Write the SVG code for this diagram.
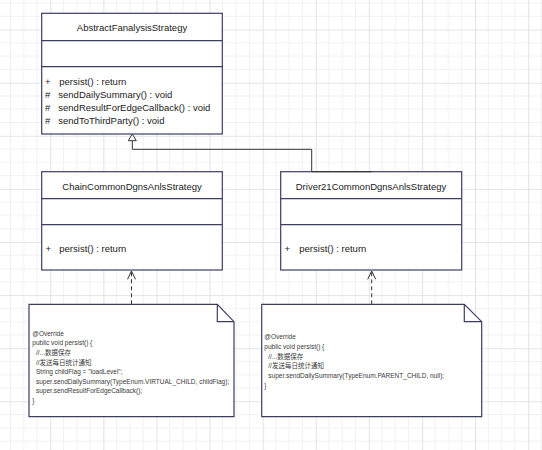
<svg xmlns="http://www.w3.org/2000/svg" width="542" height="450" viewBox="0 0 542 450">
<defs>
<pattern id="grid" x="50.2" y="29.6" width="53.1" height="53.1" patternUnits="userSpaceOnUse">
<path d="M13.275,0V53.1M26.55,0V53.1M39.825,0V53.1M0,13.275H53.1M0,26.55H53.1M0,39.825H53.1" stroke="#f1f1f1" stroke-width="1" fill="none"/>
<path d="M0.5,0V53.1M0,0.5H53.1" stroke="#e4e4e4" stroke-width="1.2" fill="none"/>
</pattern>
</defs>
<style>
.box{fill:#fff;stroke:#3d3d63;stroke-width:1.2}
.div{stroke:#3d3d63;stroke-width:1.2}
.title{font-family:"Liberation Sans",Arial,sans-serif;font-size:9.5px;fill:#222;text-anchor:middle}
.mem{font-family:"Liberation Sans",Arial,sans-serif;font-size:9.5px;fill:#222}
.note{fill:#fff;stroke:#3d3d63;stroke-width:1.2}
.code{font-family:"Liberation Sans",Arial,"Noto Sans CJK SC",sans-serif;font-size:6.5px;fill:#3a3a3a}
.conn{fill:none;stroke:#333;stroke-width:1}
</style>
<rect width="542" height="450" fill="#fff"/>
<rect width="542" height="450" fill="url(#grid)"/>

<g id="connectors">
<path class="conn" d="M132.3,140.7 V149.3 H311.7 V171.7 H371.7"/>
<path d="M132.3,134 L128.3,140.7 L136.3,140.7 Z" fill="#fff" stroke="#333" stroke-width="1"/>
<path class="conn" d="M131.5,304.3 V271" stroke-dasharray="4,3"/>
<path class="conn" d="M127.5,279.3 L131.5,271 L135.5,279.3"/>
<path class="conn" d="M371.7,304.3 V271" stroke-dasharray="4,3"/>
<path class="conn" d="M367.7,279.3 L371.7,271 L375.7,279.3"/>
</g>

<g id="AbstractFanalysisStrategy">
<rect class="box" x="41.7" y="13.3" width="180.6" height="120.7"/>
<line class="div" x1="41.7" y1="40.7" x2="222.3" y2="40.7"/>
<line class="div" x1="41.7" y1="66.7" x2="222.3" y2="66.7"/>
<text class="title" x="132" y="30.7">AbstractFanalysisStrategy</text>
<text class="mem" x="45" y="85">+</text>
<text class="mem" x="59.3" y="85">persist() : return</text>
<text class="mem" x="45" y="98">#</text>
<text class="mem" x="58.3" y="98">sendDailySummary() : void</text>
<text class="mem" x="45" y="111">#</text>
<text class="mem" x="58.3" y="111">sendResultForEdgeCallback() : void</text>
<text class="mem" x="45" y="124">#</text>
<text class="mem" x="58.3" y="124">sendToThirdParty() : void</text>
</g>

<g id="ChainCommonDgnsAnlsStrategy">
<rect class="box" x="41.7" y="171.7" width="180.6" height="98.3"/>
<line class="div" x1="41.7" y1="198.7" x2="222.3" y2="198.7"/>
<line class="div" x1="41.7" y1="224.7" x2="222.3" y2="224.7"/>
<text class="title" x="132" y="189.5">ChainCommonDgnsAnlsStrategy</text>
<text class="mem" x="45.5" y="251.6">+</text>
<text class="mem" x="59.3" y="251.6">persist() : return</text>
</g>

<g id="Driver21CommonDgnsAnlsStrategy">
<rect class="box" x="280.7" y="171.7" width="181" height="98.3"/>
<line class="div" x1="280.7" y1="198.7" x2="461.7" y2="198.7"/>
<line class="div" x1="280.7" y1="224.7" x2="461.7" y2="224.7"/>
<path d="M311.7,171.7 H371.7" stroke="#333" stroke-width="1"/>
<text class="title" x="371" y="189.5">Driver21CommonDgnsAnlsStrategy</text>
<text class="mem" x="284.5" y="251.6">+</text>
<text class="mem" x="299.3" y="251.6">persist() : return</text>
</g>

<g id="note1">
<path class="note" d="M29,304.3 H217.3 L234,321.7 V416.7 H29 Z"/>
<path class="div" fill="none" d="M217.3,304.3 V321.7 H234"/>
<text class="code" x="32.3" y="335.8">@Override</text>
<text class="code" x="32.3" y="345.4">public void persist() {</text>
<text class="code" x="36" y="355">//...数据保存</text>
<text class="code" x="36" y="364.6">//发送每日统计通知</text>
<text class="code" x="36" y="374.2">String childFlag = "loadLevel";</text>
<text class="code" x="36" y="383.8">super.sendDailySummary(TypeEnum.VIRTUAL_CHILD, childFlag);</text>
<text class="code" x="36" y="393.4">super.sendResultForEdgeCallback();</text>
<text class="code" x="32.3" y="403">}</text>
</g>

<g id="note2">
<path class="note" d="M261.7,304.3 H464.3 L481.7,321.7 V416.7 H261.7 Z"/>
<path class="div" fill="none" d="M464.3,304.3 V321.7 H481.7"/>
<text class="code" x="264.3" y="339.2">@Override</text>
<text class="code" x="264.3" y="348.9">public void persist() {</text>
<text class="code" x="268.3" y="358.5">//...数据保存</text>
<text class="code" x="268.3" y="368.2">//发送每日统计通知</text>
<text class="code" x="268.3" y="377.9">super.sendDailySummary(TypeEnum.PARENT_CHILD, null);</text>
<text class="code" x="264.3" y="387.6">}</text>
</g>
</svg>
